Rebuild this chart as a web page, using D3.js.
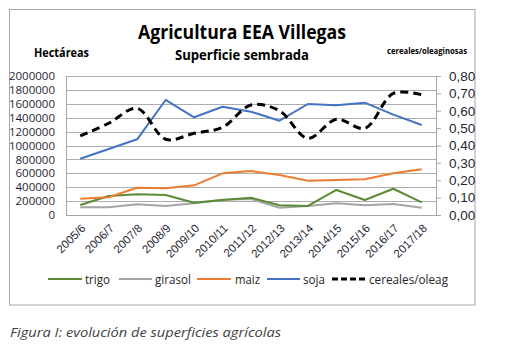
<!DOCTYPE html>
<html><head><meta charset="utf-8">
<script src="https://cdn.jsdelivr.net/npm/d3@7"></script>
<style>
body{margin:0;background:#fff;}
svg{display:block;font-family:"Open Sans","Liberation Sans",sans-serif;}
</style></head>
<body><svg id="c" width="518" height="354"></svg>
<script>
const categories = ["2005/6","2006/7","2007/8","2008/9","2009/10","2010/11","2011/12","2012/13","2013/14","2014/15","2015/16","2016/17","2017/18"];
const trigo   = [144000,273000,297000,288000,177000,216000,249000,139000,130000,360000,216000,378000,183000];
const girasol = [110000,110000,154000,130000,168000,220000,230000,105000,130000,168000,140000,158000,105000];
const maiz    = [235000,255000,393000,384000,427000,600000,633000,575000,494000,504000,513000,600000,657000];
const soja    = [810000,950000,1089000,1655000,1406000,1558000,1486000,1357000,1597000,1578000,1616000,1445000,1295000];
const cerealesOleag = [0.455,0.528,0.614,0.436,0.470,0.505,0.633,0.600,0.441,0.551,0.499,0.700,0.692];
const leftTicks = [0,200000,400000,600000,800000,1000000,1200000,1400000,1600000,1800000,2000000];
const rightTicks = [0,0.1,0.2,0.3,0.4,0.5,0.6,0.7,0.8];
const seriesNames = ["trigo","girasol","maiz","soja","cereales/oleag"];

const svg = d3.select("#c");
const L=66, R=436, T=76, B=215;
const x = d3.scaleBand().domain(categories).range([L,R]);
const cx = c => x(c) + x.bandwidth()/2;
const y = d3.scaleLinear().domain([0,2000000]).range([B,T]);
const y2 = d3.scaleLinear().domain([0,0.8]).range([B,T]);

// frame
svg.append("rect").attr("x",9.5).attr("y",9.5).attr("width",465.5).attr("height",295.5)
  .attr("fill","#fff").attr("stroke","#a6a6a6").attr("stroke-width",1);

// gridlines
svg.append("g").selectAll("line").data(leftTicks).join("line")
  .attr("x1",L).attr("x2",R).attr("y1",d=>Math.round(y(d))+0.5).attr("y2",d=>Math.round(y(d))+0.5)
  .attr("stroke","#adadad").attr("stroke-width",1);

// left axis
const gl = svg.append("g").attr("transform",`translate(${L},0)`)
  .call(d3.axisLeft(y).tickValues(leftTicks).tickSize(0).tickPadding(11).tickFormat(d3.format("d")));
gl.select(".domain").attr("stroke","#a6a6a6");
gl.selectAll("text").attr("font-size",11.5).attr("fill","#1f1f33").attr("font-family","Open Sans");

// right axis
const gr = svg.append("g").attr("transform",`translate(${R},0)`)
  .call(d3.axisRight(y2).tickValues(rightTicks).tickSize(5).tickPadding(8).tickFormat(d=>d.toFixed(2).replace(".",",")));
gr.select(".domain").attr("stroke","#a6a6a6");
gr.selectAll(".tick line").attr("stroke","#a6a6a6");
gr.selectAll("text").attr("font-size",13.5).attr("fill","#1f1f33");

// bottom axis
const gb = svg.append("g").attr("transform",`translate(0,${B})`)
  .call(d3.axisBottom(x).tickSize(0).tickPadding(0));
gb.select(".domain").attr("stroke","#a6a6a6");
gb.selectAll("text").attr("font-size",11.5).attr("fill","#1f1f33")
  .attr("text-anchor","end").attr("dy",0)
  .attr("transform","translate(6,14) rotate(-45)");

// series
const colors = {trigo:"#5b8c35",girasol:"#a5a5a5",maiz:"#ed7d31",soja:"#4472c4"};
const dataMap = {trigo, girasol, maiz, soja};
const line = d3.line().x((d,i)=>cx(categories[i])).y(d=>y(d));
["girasol","trigo","maiz","soja"].forEach(k=>{
  svg.append("path").datum(dataMap[k]).attr("d",line)
    .attr("fill","none").attr("stroke",colors[k]).attr("stroke-width",2).attr("stroke-linejoin","round");
});
const line2 = d3.line().x((d,i)=>cx(categories[i])).y(d=>y2(d)).curve(d3.curveCatmullRom.alpha(0.5));
svg.append("path").datum(cerealesOleag).attr("d",line2)
  .attr("fill","none").attr("stroke","#000").attr("stroke-width",3).attr("stroke-dasharray","8,5");

// titles
svg.append("text").attr("x",242).attr("y",39).attr("text-anchor","middle")
  .attr("font-size",19).attr("font-weight","bold").attr("fill","#000")
  .attr("textLength",208).attr("lengthAdjust","spacingAndGlyphs").text("Agricultura EEA Villegas");
svg.append("text").attr("x",242).attr("y",60).attr("text-anchor","middle")
  .attr("font-size",14.5).attr("font-weight","bold").attr("fill","#000")
  .attr("textLength",134).attr("lengthAdjust","spacingAndGlyphs").text("Superficie sembrada");
svg.append("text").attr("x",34).attr("y",57).attr("font-size",12).attr("font-weight","bold").attr("fill","#000")
  .attr("textLength",55).attr("lengthAdjust","spacingAndGlyphs").text("Hectáreas");
svg.append("text").attr("x",387).attr("y",54).attr("font-size",8.5).attr("font-weight","bold").attr("fill","#000")
  .attr("textLength",80).attr("lengthAdjust","spacingAndGlyphs").text("cereales/oleaginosas");

// legend
const legendItems = [
  {name:seriesNames[0], x1:48, x2:82, tx:85, tw:25, color:colors.trigo},
  {name:seriesNames[1], x1:119, x2:152, tx:155, tw:36, color:colors.girasol},
  {name:seriesNames[2], x1:197, x2:231, tx:235, tw:25, color:colors.maiz},
  {name:seriesNames[3], x1:267, x2:300, tx:303, tw:22, color:colors.soja},
  {name:seriesNames[4], x1:332, x2:367, tx:369, tw:79, color:"#000", dash:true}
];
const lg = svg.append("g");
legendItems.forEach(it=>{
  lg.append("line").attr("x1",it.x1).attr("x2",it.x2).attr("y1",279).attr("y2",279)
    .attr("stroke",it.color).attr("stroke-width",it.dash?3:2)
    .attr("stroke-dasharray",it.dash?"6,3":null);
  lg.append("text").attr("x",it.tx).attr("y",283.5).attr("font-size",13).attr("fill","#262626")
    .attr("textLength",it.tw).attr("lengthAdjust","spacingAndGlyphs").text(it.name);
});

// caption
svg.append("text").attr("x",10).attr("y",337).attr("font-size",13).attr("font-style","italic")
  .attr("fill","#404040").attr("textLength",271).attr("lengthAdjust","spacingAndGlyphs")
  .text("Figura I: evolución de superficies agrícolas");
</script></body></html>
